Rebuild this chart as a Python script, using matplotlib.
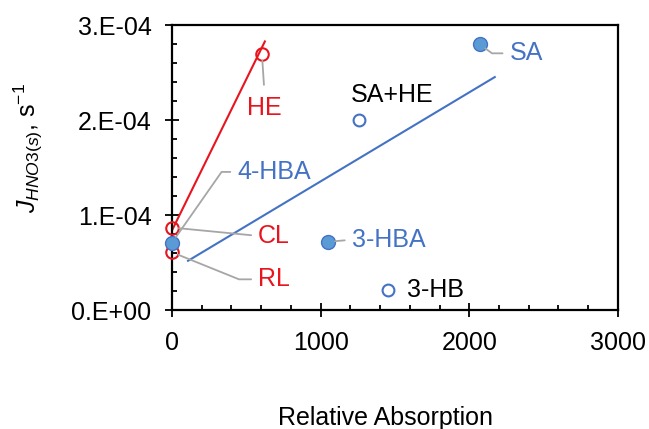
import numpy as np
import matplotlib
matplotlib.use('Agg')
import matplotlib.pyplot as plt
from matplotlib.ticker import MultipleLocator, FuncFormatter

plt.rcParams['font.family'] = ['Liberation Sans', 'DejaVu Sans']
plt.rcParams['mathtext.fontset'] = 'custom'
plt.rcParams['mathtext.rm'] = 'Liberation Sans'
plt.rcParams['mathtext.it'] = 'Liberation Sans:italic'

# datos
nombres = ['HE', 'CL', 'RL', '4-HBA', '3-HBA', 'SA', 'SA+HE', '3-HB']
absorcion = [605, 0, 0, 0, 1050, 2070, 1260, 1455]
j_hno3 = [2.70e-4, 0.87e-4, 0.61e-4, 0.71e-4, 0.72e-4, 2.80e-4, 2.00e-4, 0.21e-4]
grupo = ['rojo', 'rojo', 'rojo', 'azul', 'azul', 'azul', 'abierto', 'abierto']

# lineas de tendencia (extremos)
tend_rojo_x = [0, 625]
tend_rojo_y = [0.84e-4, 2.83e-4]
tend_azul_x = [108, 2172]
tend_azul_y = [0.52e-4, 2.455e-4]

ROJO = '#E8141E'
AZUL = '#4472C4'
AZUL_RELLENO = '#5B9BD5'
GRIS = '#A6A6A6'
TAM = 18

fig = plt.figure(figsize=(6.49, 4.29), dpi=100)
ax = fig.add_axes([0.265, 0.277, 0.687, 0.664])

ax.plot(tend_rojo_x, tend_rojo_y, color=ROJO, lw=1.5, zorder=2)
ax.plot(tend_azul_x, tend_azul_y, color=AZUL, lw=1.5, zorder=2)

x = np.array(absorcion)
y = np.array(j_hno3)
g = np.array(grupo)

m = g == 'rojo'
ax.plot(x[m], y[m], 'o', ms=9, mfc='none', mec=ROJO, mew=1.5, zorder=3, clip_on=False)
m = g == 'azul'
ax.plot(x[m], y[m], 'o', ms=10, mfc=AZUL_RELLENO, mec=AZUL, mew=1.0, zorder=4, clip_on=False)
m = g == 'abierto'
ax.plot(x[m], y[m], 'o', ms=8.5, mfc='none', mec=AZUL, mew=1.5, zorder=3, clip_on=False)

# etiquetas: desplazamiento (pt), alineacion, color, conector
etiquetas = {
    'HE':    ((2, -39), 'center', ROJO, 'recto', (0.5, 1.0)),
    'CL':    ((62, -6), 'left', ROJO, 'recto', (0, 0.5)),
    'RL':    ((62, -19.5), 'left', ROJO, 'angle,angleA=0,angleB=-22,rad=0', (0, 0.5)),
    '4-HBA': ((47, 51), 'left', AZUL, 'angle,angleA=0,angleB=55,rad=0', (0, 0.5)),
    '3-HBA': ((17, 1.5), 'left', AZUL, 'recto', (0, 0.5)),
    'SA':    ((21.5, -6.5), 'left', AZUL, 'angle,angleA=0,angleB=-36,rad=0', (0, 0.5)),
    'SA+HE': ((24, 18.5), 'center', 'black', None, None),
    '3-HB':  ((13.5, 0), 'left', 'black', None, None),
}

for i, nombre in enumerate(nombres):
    off, ha, col, con, rel = etiquetas[nombre]
    props = None
    if con is not None:
        props = dict(arrowstyle='-', color=GRIS, lw=1.3, shrinkA=3, shrinkB=5, relpos=rel)
        if con != 'recto':
            props['connectionstyle'] = con
        if nombre == 'HE':
            props['shrinkA'] = 6
    ax.annotate(nombre, (absorcion[i], j_hno3[i]), xytext=off, textcoords='offset points',
                ha=ha, va='center', color=col, fontsize=TAM, arrowprops=props,
                annotation_clip=False, zorder=5)

ax.set_xlim(0, 3000)
ax.set_ylim(0, 3e-4)
ax.xaxis.set_major_locator(MultipleLocator(1000))
ax.xaxis.set_minor_locator(MultipleLocator(200))
ax.yaxis.set_major_locator(MultipleLocator(1e-4))
ax.yaxis.set_minor_locator(MultipleLocator(2e-5))
ax.yaxis.set_major_formatter(FuncFormatter(lambda v, p: f'{v:.0E}'.replace('E', '.E')))

ax.tick_params(which='major', direction='inout', length=9.5, width=1.3, labelsize=TAM, pad=10)
ax.tick_params(axis='y', which='major', pad=10)
ax.tick_params(which='minor', direction='in', length=3.6, width=1.3)
for s in ax.spines.values():
    s.set_linewidth(1.6)
    s.set_color('black')

ax.set_xlabel('Relative Absorption', fontsize=TAM)
ax.xaxis.set_label_coords(0.478, -0.335)
ax.set_ylabel(r'$J_{HNO3(s)}$, s$^{-1}$', fontsize=TAM)
ax.yaxis.set_label_coords(-0.285, 0.568)

fig.savefig('out.png', dpi=100)
